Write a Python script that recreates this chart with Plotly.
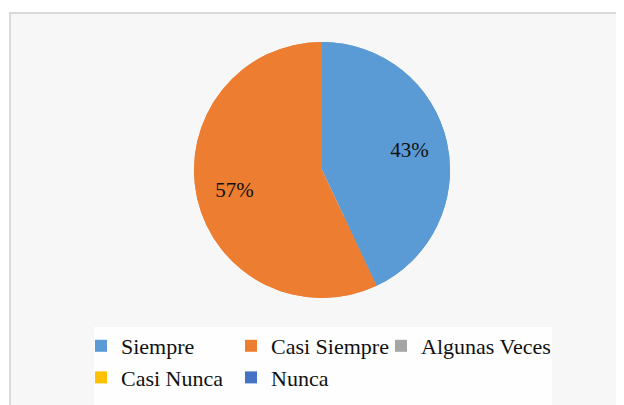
import plotly.graph_objects as go

categories = ["Siempre", "Casi Siempre", "Algunas Veces", "Casi Nunca", "Nunca"]
values = [43, 57, 0, 0, 0]
colors = ["#5B9BD5", "#ED7D31", "#A5A5A5", "#FFC000", "#4472C4"]

W, H = 624, 405
OFF = 8          # page body margin
MR = 100         # right margin: narrows the area so the legend wraps after 3 entries
PW = W - MR      # plot-area width (paper units refer to it)

cx, cy, r = 322 - OFF, 170 - OFF, 128
dom = dict(x=[(cx - r) / PW, (cx + r) / PW], y=[(H - cy - r) / H, (H - cy + r) / H])

fig = go.Figure()
# full pie (fills the centre)
fig.add_trace(go.Pie(
    labels=categories, values=values,
    marker=dict(colors=colors, line=dict(width=0)),
    sort=False, direction="clockwise", rotation=0,
    textinfo="none", domain=dom, showlegend=False, hoverinfo="skip",
))
# same data as a ring on top, so percentages sit further out like the original
fig.add_trace(go.Pie(
    labels=categories, values=values,
    marker=dict(colors=colors, line=dict(width=0)),
    sort=False, direction="clockwise", rotation=0, hole=0.4,
    texttemplate="%{percent:.0%}",
    textposition="inside",
    insidetextorientation="horizontal",
    textfont=dict(family="Liberation Serif", size=21, color="#111111"),
    domain=dom, showlegend=True,
    hoverinfo="label+percent",
))

fig.update_layout(
    width=W, height=H,
    margin=dict(l=0, r=MR, t=0, b=0, autoexpand=False),
    paper_bgcolor="white",
    plot_bgcolor="white",
    font=dict(family="Liberation Serif", color="#111111"),
    shapes=[
        dict(type="rect", xref="paper", yref="paper",
             x0=2 / PW, x1=W / PW, y0=0, y1=(H - 5) / H,
             fillcolor="#f7f7f7", line=dict(color="#d9d9d9", width=2), layer="below"),
        dict(type="rect", xref="paper", yref="paper",
             x0=(94 - OFF) / PW, x1=(552 - OFF) / PW, y0=0, y1=(H - (327 - OFF)) / H,
             fillcolor="#fefefe", line=dict(width=0), layer="below"),
    ],
    legend=dict(
        orientation="h",
        x=(81 - OFF) / PW, xanchor="left",
        y=(H - (325 - OFF)) / H, yanchor="top",
        bgcolor="rgba(0,0,0,0)",
        entrywidth=105, entrywidthmode="pixels",
        font=dict(family="Liberation Serif", size=22, color="#111111"),
        traceorder="normal",
    ),
)

unclip = """
var gd = document.getElementById('{plot_id}');
function unclip(){ gd.querySelectorAll('.legend .scrollbox').forEach(function(e){ e.removeAttribute('clip-path'); }); }
unclip();
if (gd.on) { gd.on('plotly_afterplot', unclip); }
setTimeout(unclip, 50); setTimeout(unclip, 300);
"""

fig.write_html("out.html", post_script=unclip)
